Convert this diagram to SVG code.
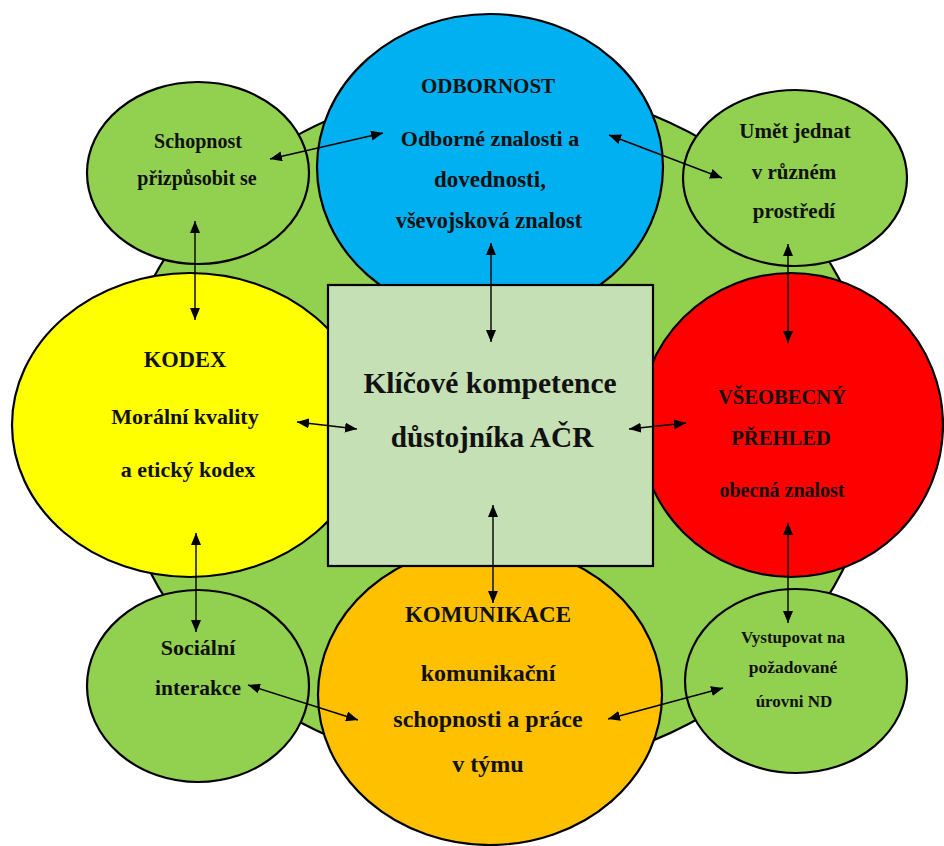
<svg xmlns="http://www.w3.org/2000/svg" width="944" height="846" viewBox="0 0 944 846">
<defs>
<marker id="ah" viewBox="0 0 12 10" refX="12" refY="5" markerWidth="12" markerHeight="10" markerUnits="userSpaceOnUse" orient="auto-start-reverse">
<path d="M0,0 L12,5 L0,10 z" fill="#000"/>
</marker>
<style>
.sh{stroke:#000;stroke-width:2.2}
.g{fill:#92D050}
.t{font-family:"Liberation Serif","Times New Roman",serif;font-weight:bold;fill:#111;text-anchor:middle}
.c line{stroke:#000;stroke-width:1.4;marker-start:url(#ah);marker-end:url(#ah)}
</style>
</defs>
<rect width="944" height="846" fill="#fff"/>
<ellipse id="background" class="g sh" cx="496" cy="428" rx="381" ry="343"/>

<g id="schopnost"><ellipse class="g sh" cx="198" cy="173" rx="111" ry="91"/>
<text class="t" x="198" y="148" font-size="20">Schopnost</text>
<text class="t" x="197" y="185" font-size="20">přizpůsobit se</text></g>

<g id="umet"><ellipse class="g sh" cx="795" cy="178" rx="112" ry="88"/>
<text class="t" x="795" y="138" font-size="21">Umět jednat</text>
<text class="t" x="794" y="179" font-size="21">v různém</text>
<text class="t" x="794" y="218" font-size="21">prostředí</text></g>

<g id="socialni"><ellipse class="g sh" cx="198" cy="686" rx="111" ry="96"/>
<text class="t" x="198" y="655" font-size="22">Sociální</text>
<text class="t" x="198" y="695" font-size="21.5">interakce</text></g>

<g id="vystupovat"><ellipse class="g sh" cx="796" cy="681" rx="111" ry="92"/>
<text class="t" x="793" y="643" font-size="17">Vystupovat na</text>
<text class="t" x="793" y="673" font-size="17.5">požadované</text>
<text class="t" x="794" y="707" font-size="17">úrovni ND</text></g>

<g id="odbornost"><ellipse class="sh" fill="#00B0F0" cx="490" cy="167" rx="173" ry="153"/>
<text class="t" x="488" y="93" font-size="21">ODBORNOST</text>
<text class="t" x="490" y="146" font-size="22">Odborné znalosti a</text>
<text class="t" x="490" y="187" font-size="23">dovednosti,</text>
<text class="t" x="489" y="228" font-size="22.3">vševojsková znalost</text></g>

<g id="kodex"><ellipse class="sh" fill="#FFFF00" cx="190" cy="425" rx="178" ry="152"/>
<text class="t" x="185" y="367" font-size="22.5">KODEX</text>
<text class="t" x="185" y="424" font-size="22">Morální kvality</text>
<text class="t" x="188" y="477" font-size="22">a etický kodex</text></g>

<g id="vseobecny"><ellipse class="sh" fill="#FF0000" cx="791" cy="425" rx="152" ry="152"/>
<text class="t" x="782" y="404" font-size="20.6">VŠEOBECNÝ</text>
<text class="t" x="781" y="445" font-size="20.6">PŘEHLED</text>
<text class="t" x="782" y="497" font-size="20">obecná znalost</text></g>

<g id="komunikace"><ellipse class="sh" fill="#FFC000" cx="490" cy="695" rx="172" ry="150"/>
<text class="t" x="488" y="622" font-size="23">KOMUNIKACE</text>
<text class="t" x="488" y="681" font-size="24">komunikační</text>
<text class="t" x="488" y="727" font-size="24">schopnosti a práce</text>
<text class="t" x="488" y="772" font-size="24">v týmu</text></g>

<g id="center"><rect class="sh" fill="#C5E0B4" x="328" y="285" width="325" height="281"/>
<text class="t" x="490" y="393" font-size="29.5">Klíčové kompetence</text>
<text class="t" x="492" y="447" font-size="29.3">důstojníka AČR</text></g>

<g id="connectors" class="c">
<line x1="270" y1="159" x2="383" y2="133"/>
<line x1="609" y1="135" x2="722" y2="178"/>
<line x1="195" y1="221" x2="195" y2="320"/>
<line x1="297" y1="422" x2="357" y2="429"/>
<line x1="629" y1="429" x2="686" y2="423"/>
<line x1="491" y1="243" x2="491" y2="342"/>
<line x1="788" y1="244" x2="788" y2="343"/>
<line x1="493" y1="505" x2="493" y2="603"/>
<line x1="196" y1="533" x2="196" y2="632"/>
<line x1="788" y1="523" x2="788" y2="623"/>
<line x1="248" y1="685" x2="358" y2="720"/>
<line x1="608" y1="719" x2="723" y2="688"/>
</g>
</svg>
